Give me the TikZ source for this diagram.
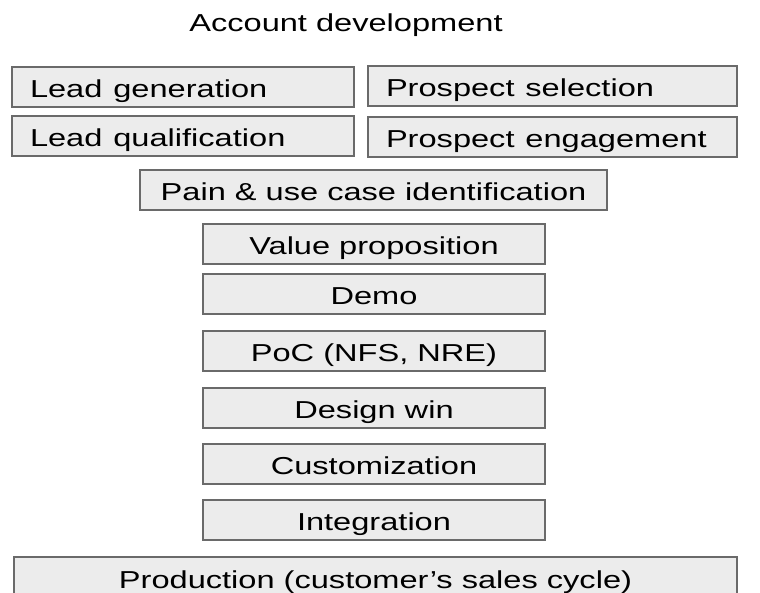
\documentclass[tikz,border=0pt]{standalone}
\usepackage{fontspec}
\usepackage{graphicx}
\usepackage{xcolor}
\setmainfont{Liberation Sans}
\newcommand{\wide}[1]{\scalebox{1.33}[1]{#1}}

\begin{document}
\begin{tikzpicture}[x=1pt,y=-1pt,
  stage/.style={draw=boxline,fill=boxfill,line width=1.5pt,minimum height=40pt,inner ysep=0pt,
    text height=22pt,text depth=2pt,font=\fontsize{24.5}{28}\selectfont},
  leftstage/.style={stage,inner xsep=18pt,align=left}]
\definecolor{boxline}{HTML}{6A6A6A}
\definecolor{boxfill}{HTML}{ECECEC}
\useasboundingbox (0,0) rectangle (760,592);
\clip (0,0) rectangle (760,592);
\node[font=\fontsize{24.5}{28}\selectfont] (title) at (346,25) {\wide{Account development}};
\node[leftstage,text width=306pt] (leadgen) at (183,87) {\wide{Lead generation}};
\node[leftstage,text width=333pt] (prosel) at (552.5,86) {\wide{Prospect selection}};
\node[leftstage,text width=306pt] (leadqual) at (183,136) {\wide{Lead qualification}};
\node[leftstage,text width=333pt] (proeng) at (552.5,137) {\wide{Prospect engagement}};
\node[stage,minimum width=467pt] (pain) at (373.5,190) {\wide{Pain \& use case identification}};
  \foreach \nm/\txt/\yy in {value/Value proposition/244,demo/Demo/294,poc/{PoC (NFS, NRE)}/351,
    design/Design win/408,custom/Customization/464,integ/Integration/520}
  {  \node [stage,minimum width=342pt] (\nm) at (374,\yy) {\wide{\txt}};}
\node[stage,minimum width=723pt,minimum height=42pt] (prod) at (375.5,578) {\wide{Production (customer’s sales cycle)}};
\end{tikzpicture}
\end{document}
